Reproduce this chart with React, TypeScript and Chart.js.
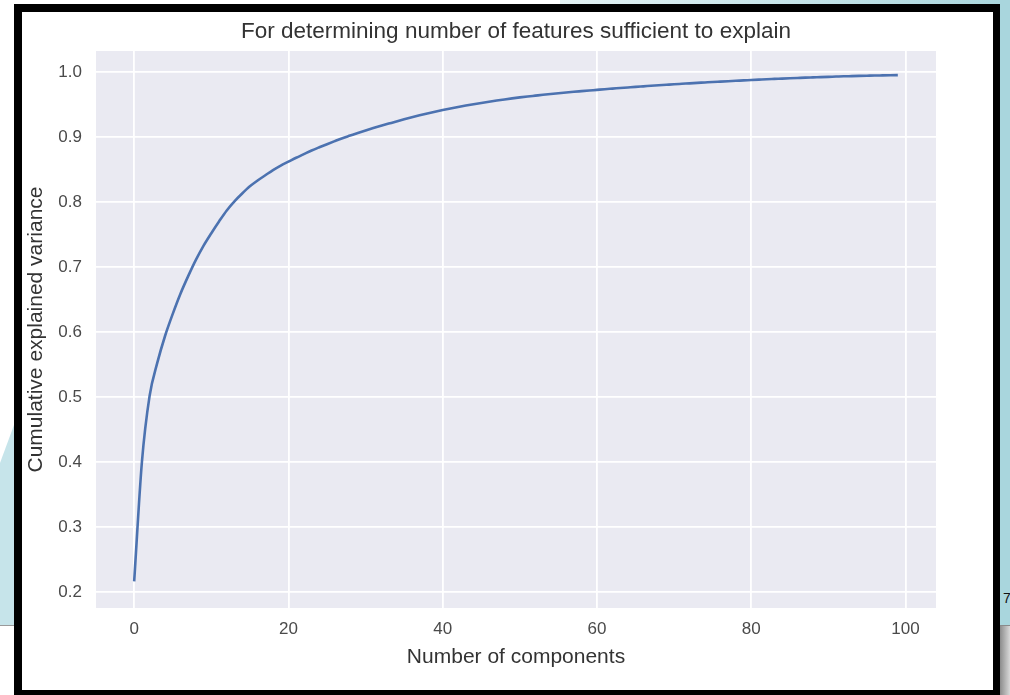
import React, { useEffect, useRef } from "react";
import { Chart, registerables } from "chart.js";

Chart.register(...registerables);

const TITLE = "For determining number of features sufficient to explain";
const X_LABEL = "Number of components";
const Y_LABEL = "Cumulative explained variance";
const X_TICKS = [0, 20, 40, 60, 80, 100];
const Y_TICKS = [0.2, 0.3, 0.4, 0.5, 0.6, 0.7, 0.8, 0.9, 1.0];
const X_RANGE = [-4.95, 103.95];
const Y_RANGE = [0.176, 1.032];

const COMPONENTS = [
  0, 1, 2, 3, 4, 5, 6, 7, 8, 9, 10, 11, 12, 13, 14, 15, 16, 17, 18, 19,
  20, 21, 22, 23, 24, 25, 26, 27, 28, 29, 30, 31, 32, 33, 34, 35, 36, 37, 38, 39,
  40, 41, 42, 43, 44, 45, 46, 47, 48, 49, 50, 51, 52, 53, 54, 55, 56, 57, 58, 59,
  60, 61, 62, 63, 64, 65, 66, 67, 68, 69, 70, 71, 72, 73, 74, 75, 76, 77, 78, 79,
  80, 81, 82, 83, 84, 85, 86, 87, 88, 89, 90, 91, 92, 93, 94, 95, 96, 97, 98, 99,
];

const CUMULATIVE_VARIANCE = [
  0.217, 0.400, 0.502, 0.553, 0.594, 0.628, 0.659, 0.686, 0.711, 0.733,
  0.752, 0.770, 0.787, 0.801, 0.813, 0.824, 0.833, 0.841, 0.849, 0.856,
  0.862, 0.868, 0.8735, 0.879, 0.884, 0.8888, 0.8935, 0.898, 0.902, 0.906,
  0.9098, 0.9135, 0.917, 0.9204, 0.9238, 0.9271, 0.9302, 0.9331, 0.9359, 0.9386,
  0.9412, 0.9436, 0.9459, 0.9481, 0.9502, 0.9522, 0.9541, 0.9559, 0.9576, 0.9592,
  0.9607, 0.9621, 0.9634, 0.9647, 0.9659, 0.9671, 0.9682, 0.9693, 0.9703, 0.9713,
  0.9723, 0.9733, 0.9742, 0.9751, 0.976, 0.9769, 0.9777, 0.9785, 0.9793, 0.9801,
  0.9809, 0.9816, 0.9823, 0.983, 0.9837, 0.9844, 0.985, 0.9856, 0.9862, 0.9868,
  0.9874, 0.988, 0.9886, 0.9891, 0.9896, 0.9901, 0.9906, 0.9911, 0.9915, 0.9919,
  0.9923, 0.9927, 0.9931, 0.9934, 0.9937, 0.994, 0.9943, 0.9945, 0.9947, 0.9949,
];

const FONT = "'Liberation Sans', Arial, Helvetica, sans-serif";

const plotBackground = {
  id: "plotBackground",
  beforeDraw(chart: any) {
    const { ctx, chartArea } = chart;
    if (!chartArea) return;
    ctx.save();
    ctx.fillStyle = "#EAEAF2";
    ctx.fillRect(chartArea.left, chartArea.top, chartArea.right - chartArea.left, chartArea.bottom - chartArea.top);
    ctx.restore();
  },
};

function CumulativeChart() {
  const ref = useRef<HTMLCanvasElement | null>(null);
  useEffect(() => {
    if (!ref.current) return;
    const chart = new Chart(ref.current, {
      type: "line",
      data: {
        datasets: [
          {
            data: COMPONENTS.map((c, i) => ({ x: c, y: CUMULATIVE_VARIANCE[i] })),
            borderColor: "#4C72B0",
            borderWidth: 2.6,
            pointRadius: 0,
            cubicInterpolationMode: "monotone",
            fill: false,
          },
        ],
      },
      options: {
        animation: false,
        responsive: false,
        devicePixelRatio: 1,
        layout: { padding: { left: 0, right: 57, top: 0, bottom: 20 } },
        plugins: {
          legend: { display: false },
          tooltip: { enabled: false },
          title: {
            display: true,
            text: TITLE,
            fullSize: false,
            color: "#333333",
            font: { family: FONT, size: 22.5, weight: "normal" },
            padding: { top: 6, bottom: 6 },
          },
        },
        scales: {
          x: {
            type: "linear",
            min: X_RANGE[0],
            max: X_RANGE[1],
            afterBuildTicks: (scale: any) => {
              scale.ticks = X_TICKS.map((v) => ({ value: v }));
            },
            afterFit: (scale: any) => {
              scale.height = 62;
            },
            grid: { color: "#ffffff", lineWidth: 1.8, drawTicks: false },
            border: { display: false },
            ticks: {
              color: "#4a4a4a",
              padding: 11,
              font: { family: FONT, size: 17 },
              callback: (v: any) => String(v),
              maxRotation: 0,
            },
            title: {
              display: true,
              text: X_LABEL,
              color: "#333333",
              font: { family: FONT, size: 21 },
              padding: { top: 0, bottom: 0 },
            },
          },
          y: {
            type: "linear",
            min: Y_RANGE[0],
            max: Y_RANGE[1],
            afterBuildTicks: (scale: any) => {
              scale.ticks = Y_TICKS.map((v) => ({ value: v }));
            },
            afterFit: (scale: any) => {
              scale.width = 74;
            },
            grid: { color: "#ffffff", lineWidth: 1.8, drawTicks: false },
            border: { display: false },
            ticks: {
              color: "#4a4a4a",
              padding: 14,
              font: { family: FONT, size: 17 },
              callback: (v: any) => Number(v).toFixed(1),
            },
            title: {
              display: true,
              text: Y_LABEL,
              color: "#333333",
              font: { family: FONT, size: 21 },
              padding: { top: 2, bottom: 0 },
            },
          },
        },
      },
      plugins: [plotBackground],
    } as any);
    return () => chart.destroy();
  }, []);
  return <canvas ref={ref} width={971} height={678} style={{ width: 971, height: 678, display: "block" }} />;
}

export default function App() {
  return (
    <div style={{ position: "absolute", left: 0, top: 0, width: 1010, height: 695, overflow: "hidden", background: "#ffffff" }}>
      {/* background decorations outside the frame */}
      <div style={{ position: "absolute", left: 560, top: 0, width: 450, height: 4, background: "linear-gradient(90deg, #e4f2f4, #a9d6dd)" }} />
      <div style={{ position: "absolute", left: 0, top: 0, width: 14, height: 625, background: "#c6e4ea", clipPath: "polygon(0 463px, 14px 425px, 14px 625px, 0 625px)" }} />
      <div style={{ position: "absolute", left: 0, top: 625, width: 14, height: 1, background: "#9a9a9a" }} />
      <div style={{ position: "absolute", left: 1000, top: 0, width: 10, height: 625, background: "#a9d6dd" }} />
      <div style={{ position: "absolute", left: 1000, top: 625, width: 10, height: 1, background: "#8a8a8a" }} />
      <div style={{ position: "absolute", left: 1000, top: 626, width: 10, height: 69, background: "linear-gradient(90deg, #8c8c8c, #d8d8d8)" }} />
      <div style={{ position: "absolute", left: 1003, top: 590, fontFamily: FONT, fontSize: 14, color: "#111", lineHeight: "16px" }}>7</div>
      {/* framed picture */}
      <div
        style={{
          position: "absolute",
          left: 14,
          top: 4,
          width: 986,
          height: 691,
          boxSizing: "border-box",
          borderTop: "8px solid #000",
          borderLeft: "8px solid #000",
          borderRight: "7px solid #000",
          borderBottom: "5px solid #000",
          background: "#ffffff",
        }}
      >
        <CumulativeChart />
      </div>
    </div>
  );
}
